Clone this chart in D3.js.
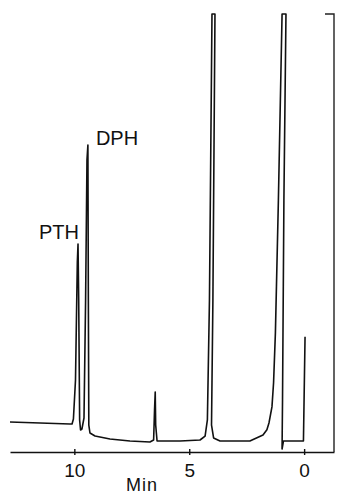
<!DOCTYPE html>
<html>
<head>
<meta charset="utf-8">
<script src="https://cdn.jsdelivr.net/npm/d3@7"></script>
<style>
  body { margin: 0; background: #fff; }
  svg text { font-family: "Liberation Sans", Arial, sans-serif; fill: #111; }
</style>
</head>
<body>
<svg id="chart" width="338" height="496"></svg>
<script>
// retention time (min) and detector response (arbitrary units, 100 = pen limit)
const timeMin = [12.80, 11.49, 10.19, 10.10, 10.04, 9.95, 9.87, 9.84, 9.81, 9.77,
  9.73, 9.67, 9.58, 9.51, 9.45, 9.41, 9.39, 9.37, 9.32, 9.10,
  8.45, 7.58, 6.71, 6.55, 6.51, 6.48, 6.46, 6.40, 5.40, 4.53,
  4.31, 4.21, 4.12, 4.01, 3.88, 3.97, 4.03, 3.94, 3.66, 2.36,
  1.79, 1.62, 1.53, 1.40, 1.33, 1.25, 1.12, 0.96, 0.79, 0.88, 0.94,
  0.96, 0.90, 0.03, -0.04];
const response = [6.85, 6.62, 6.39, 6.39, 7.53, 16.4, 43.4, 47.5, 34.7, 7.31,
  5.02, 5.25, 7.76, 34.7, 66.7, 70.1, 34.7, 6.16, 4.34, 3.65,
  2.97, 2.51, 2.28, 2.74, 9.59, 13.7, 6.16, 2.51, 2.51, 2.74,
  3.65, 7.31, 34.7, 100, 100, 34.7, 6.16, 3.20, 2.51, 2.51,
  3.88, 5.1, 6.62, 10.3, 15.8, 27.2, 57.5, 100, 100, 57.5, 11.9,
  0.68, 2.51, 2.51, 26.3];

const tickValues = [10, 5, 0];
const peakNames = ["PTH", "DPH"];
const peakTimes = [9.84, 9.41];
const peakHeights = [47.5, 70.1];

const svg = d3.select("#chart");

const x = d3.scaleLinear().domain([12.8, -1.3]).range([10, 334]);
const y = d3.scaleLinear().domain([0, 100]).range([452, 14]);

// x axis
const xAxis = d3.axisBottom(x)
  .tickValues(tickValues)
  .tickSizeInner(4)
  .tickSizeOuter(0)
  .tickFormat(d3.format("d"));

const gx = svg.append("g")
  .attr("transform", "translate(0," + y(0) + ")")
  .call(xAxis);
gx.select(".domain").attr("stroke", "#111").attr("stroke-width", 1.6);
gx.selectAll(".tick line").attr("stroke", "#111").attr("stroke-width", 1.4)
  .attr("y1", -3).attr("y2", 3);
gx.selectAll(".tick text")
  .attr("y", 12)
  .attr("font-size", 19)
  .attr("font-family", "Liberation Sans, Arial, sans-serif")
  .attr("fill", "#111");

svg.append("text")
  .attr("x", 142)
  .attr("y", 491)
  .attr("text-anchor", "middle")
  .attr("font-size", 18)
  .attr("letter-spacing", 1)
  .text("Min");

// right frame and top stub
svg.append("path")
  .attr("d", "M" + (x(-1.3) - 9) + "," + y(100) + "H" + x(-1.3) + "V" + y(0))
  .attr("fill", "none")
  .attr("stroke", "#222")
  .attr("stroke-width", 1.4);

// chromatogram trace
const pts = timeMin.map((t, i) => [t, response[i]]);
const line = d3.line().x(d => x(d[0])).y(d => y(d[1]));

svg.append("path")
  .datum(pts)
  .attr("d", line)
  .attr("fill", "none")
  .attr("stroke", "#111")
  .attr("stroke-width", 1.6)
  .attr("stroke-linejoin", "round");

// peak labels
const labelDx = [-39, 8];
const labelDy = [-5, 0];
svg.selectAll(".peaklabel")
  .data(peakNames)
  .enter().append("text")
  .attr("class", "peaklabel")
  .attr("x", (d, i) => x(peakTimes[i]) + labelDx[i])
  .attr("y", (d, i) => y(peakHeights[i]) + labelDy[i])
  .attr("font-size", 20)
  .text(d => d);
</script>
</body>
</html>
